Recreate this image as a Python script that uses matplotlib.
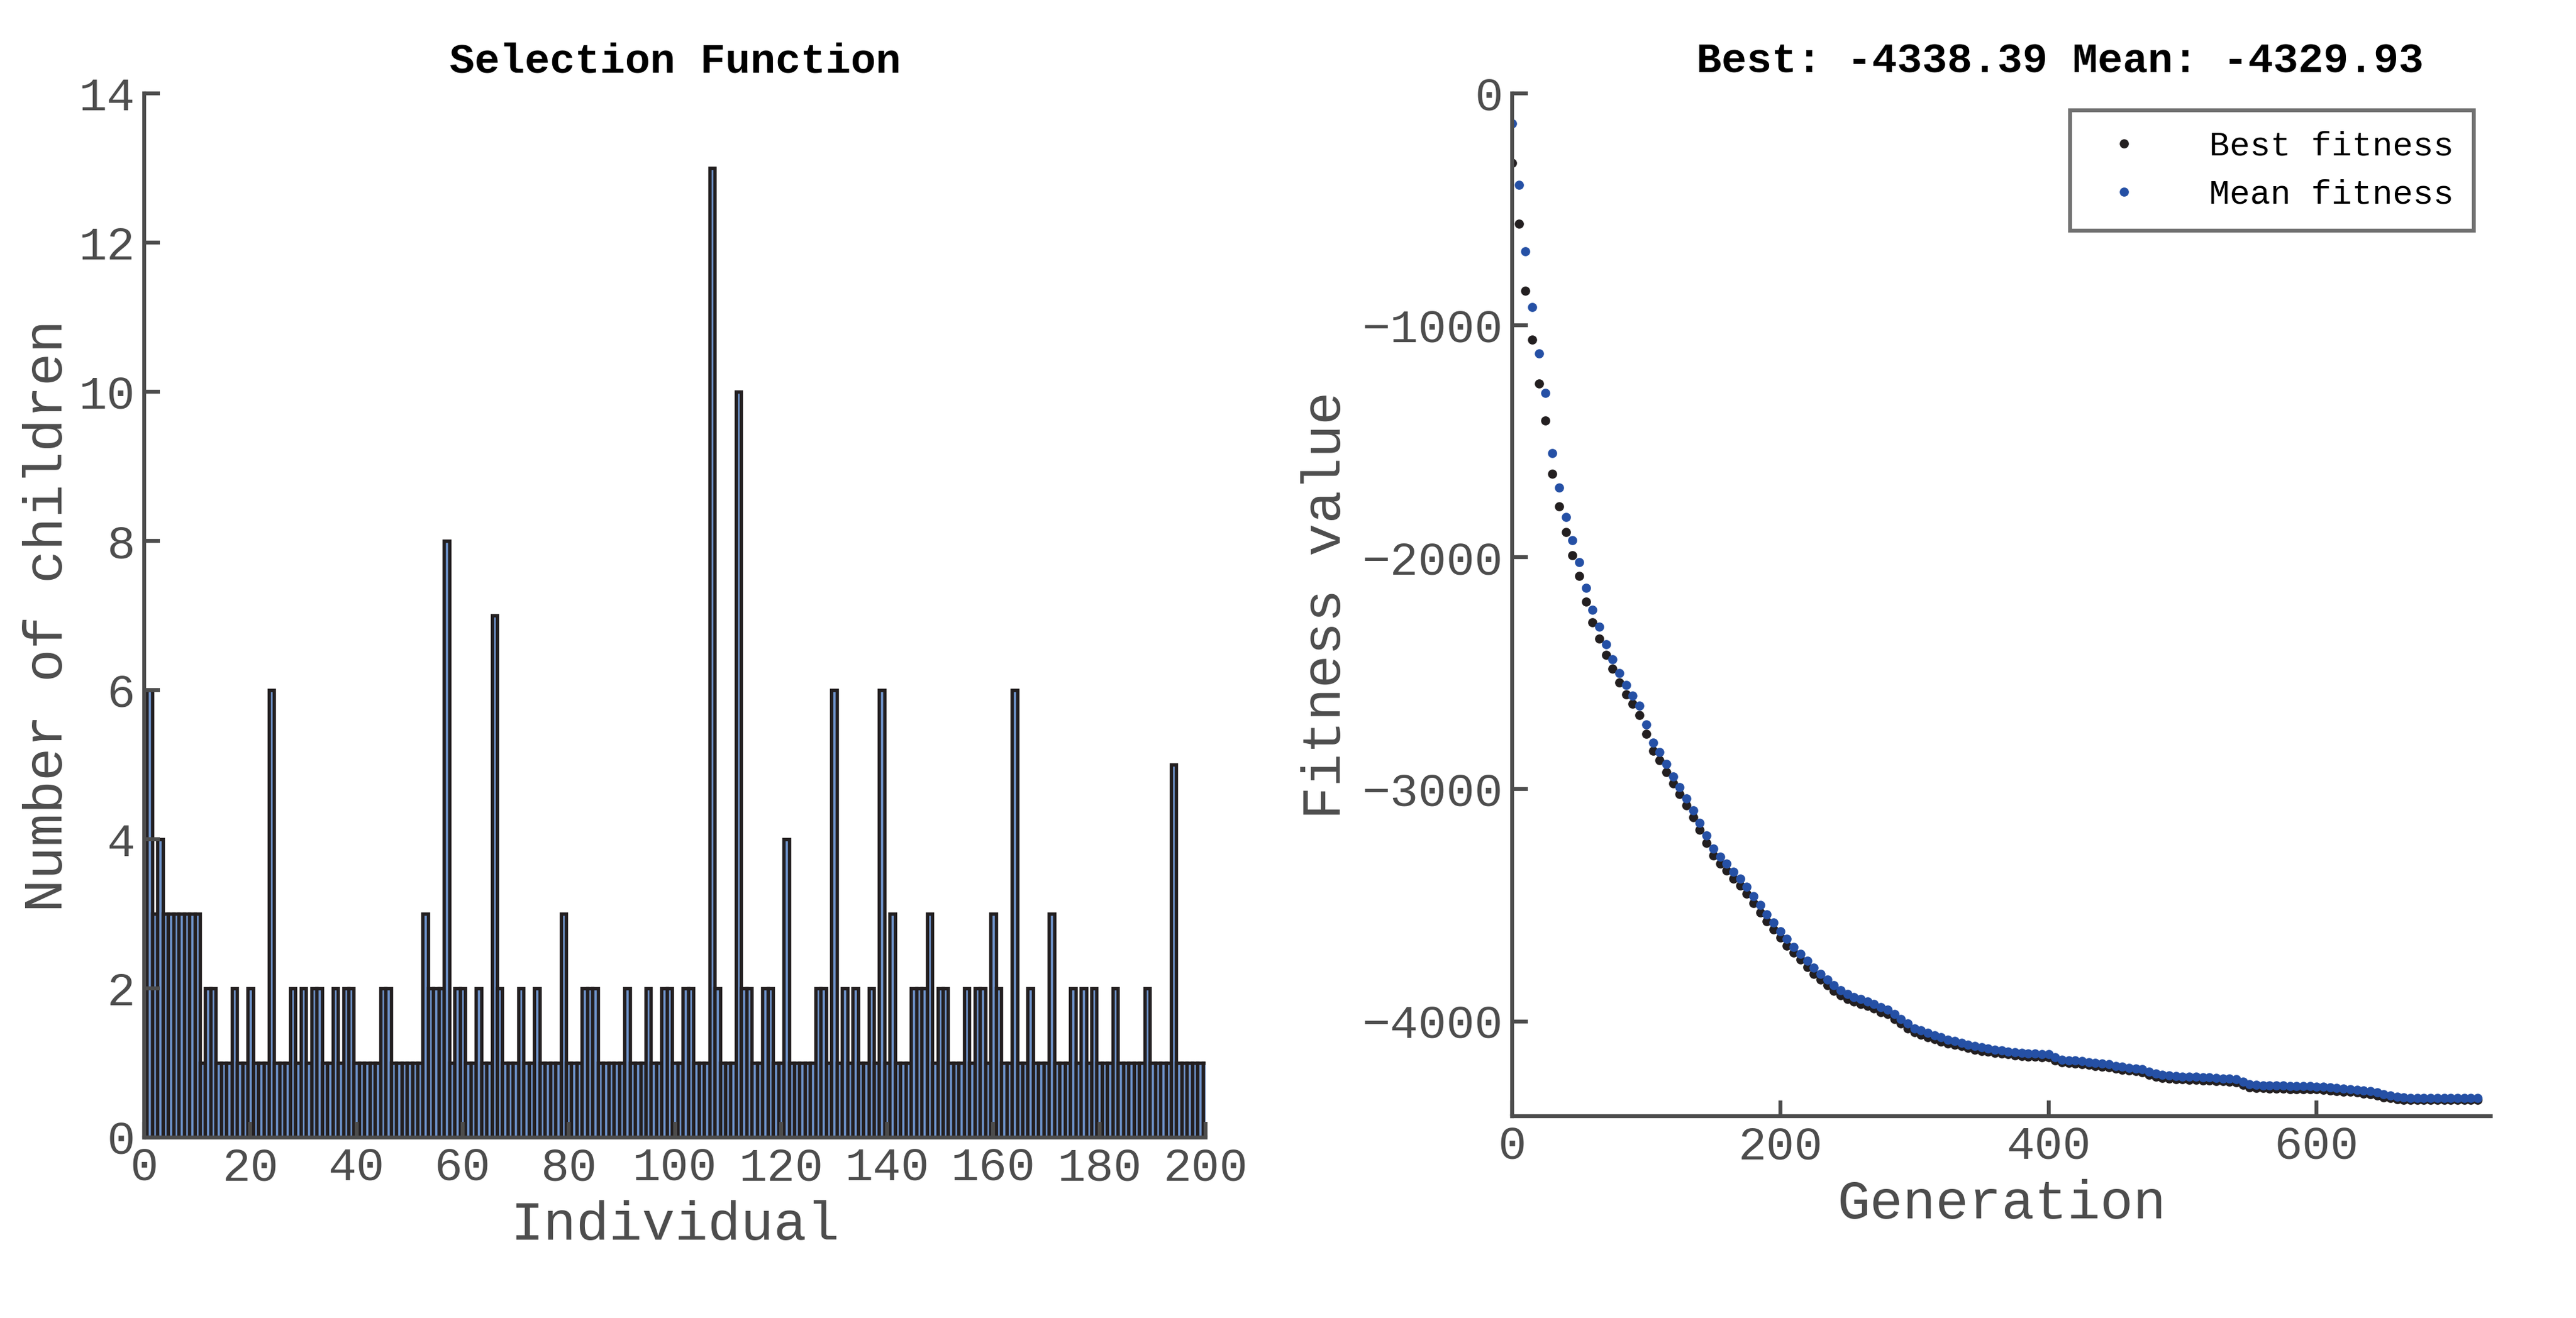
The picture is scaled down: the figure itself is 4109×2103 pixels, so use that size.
import matplotlib
matplotlib.use('Agg')
import matplotlib.pyplot as plt
import numpy as np

plt.rcParams['font.family'] = ['Liberation Mono', 'DejaVu Sans Mono']

# number of children per individual (1..200); default 1, others listed
individuals = np.arange(1, 201)
children = np.ones(200)
extra = {1: 6, 2: 3, 3: 4, 4: 3, 5: 3, 6: 3, 7: 3, 8: 3, 9: 3, 10: 3,
         12: 2, 13: 2, 17: 2, 20: 2, 24: 6, 28: 2, 30: 2, 32: 2, 33: 2,
         36: 2, 38: 2, 39: 2, 45: 2, 46: 2, 53: 3, 54: 2, 55: 2, 56: 2,
         57: 8, 59: 2, 60: 2, 63: 2, 66: 7, 67: 2, 71: 2, 74: 2, 79: 3,
         83: 2, 84: 2, 85: 2, 91: 2, 95: 2, 98: 2, 99: 2, 102: 2, 103: 2,
         107: 13, 108: 2, 112: 10, 113: 2, 114: 2, 117: 2, 118: 2, 121: 4,
         127: 2, 128: 2, 130: 6, 132: 2, 134: 2, 137: 2, 139: 6, 141: 3,
         145: 2, 146: 2, 147: 2, 148: 3, 150: 2, 151: 2, 155: 2, 157: 2,
         158: 2, 160: 3, 161: 2, 164: 6, 167: 2, 171: 3, 175: 2, 177: 2,
         179: 2, 183: 2, 189: 2, 194: 5}
for k, v in extra.items():
    children[k - 1] = v

generation = list(range(0, 725, 5))
mean_fit = [-130, -394, -680, -920, -1120, -1290, -1549, -1700, -1825, -1925,
            -2020, -2130, -2225, -2300, -2375, -2440, -2500, -2550, -2595, -2640,
            -2720, -2800, -2840, -2890, -2945, -2990, -3040, -3090, -3145, -3200,
            -3255, -3290, -3320, -3355, -3385, -3420, -3460, -3500, -3540, -3575,
            -3611, -3645, -3680, -3710, -3740, -3770, -3795, -3820, -3845, -3865,
            -3882, -3895, -3905, -3915, -3925, -3940, -3950, -3970, -3990, -4010,
            -4030, -4040, -4050, -4060, -4070, -4080, -4085, -4092, -4100, -4108,
            -4113, -4118, -4122, -4126, -4130, -4134, -4137, -4139, -4140, -4141,
            -4143, -4155, -4165, -4168, -4170, -4172, -4176, -4180, -4183, -4186,
            -4192, -4197, -4200, -4203, -4208, -4218, -4226, -4231, -4234, -4236,
            -4238, -4239, -4240, -4242, -4243, -4244, -4246, -4248, -4250, -4262,
            -4272, -4275, -4276, -4277, -4278, -4278, -4279, -4280, -4280, -4280,
            -4281, -4283, -4285, -4288, -4290, -4292, -4295, -4298, -4302, -4308,
            -4314, -4320, -4325, -4329, -4330, -4330, -4330, -4330, -4330, -4330,
            -4330, -4330, -4330, -4330, -4330]
best_fit = [-300, -560, -850, -1060, -1250, -1410, -1640, -1780, -1890, -1990,
            -2080, -2190, -2280, -2350, -2420, -2480, -2540, -2590, -2630, -2680,
            -2760, -2835, -2875, -2925, -2975, -3020, -3070, -3120, -3175, -3230,
            -3285, -3320, -3350, -3385, -3415, -3450, -3490, -3530, -3570, -3605,
            -3640, -3675, -3705, -3735, -3765, -3795, -3820, -3845, -3868, -3888,
            -3905, -3915, -3925, -3935, -3945, -3960, -3970, -3990, -4010, -4030,
            -4048, -4058, -4068, -4078, -4088, -4096, -4100, -4107, -4115, -4122,
            -4127, -4132, -4136, -4140, -4143, -4147, -4150, -4152, -4153, -4154,
            -4156, -4168, -4178, -4181, -4183, -4185, -4189, -4193, -4196, -4199,
            -4205, -4210, -4213, -4216, -4221, -4231, -4239, -4244, -4247, -4249,
            -4251, -4252, -4253, -4255, -4256, -4257, -4259, -4261, -4263, -4275,
            -4285, -4288, -4289, -4290, -4291, -4291, -4292, -4293, -4293, -4293,
            -4294, -4296, -4298, -4301, -4303, -4305, -4308, -4311, -4315, -4321,
            -4327, -4332, -4336, -4338, -4338, -4338, -4338, -4338, -4338, -4338,
            -4338, -4338, -4338, -4338, -4338.39]

axcol = '#4d4d4d'

fig = plt.figure(figsize=(4109 / 300, 2103 / 300), dpi=300)

ax1 = fig.add_axes([0.056, 0.137, 0.412, 0.792])
ax1.bar(individuals, children, width=1.0, color='#7096cf',
        edgecolor='#231f20', linewidth=1.3)
ax1.set_xlim(0, 200)
ax1.set_ylim(0, 14)
ax1.set_xticks(range(0, 201, 20))
ax1.set_yticks(range(0, 15, 2))
ax1.set_xlabel('Individual', fontsize=21, color=axcol)
ax1.set_ylabel('Number of children', fontsize=21, color=axcol, labelpad=2)
ax1.set_title('Selection Function', fontsize=16, fontweight='bold', pad=8)

ax2 = fig.add_axes([0.587, 0.153, 0.380, 0.776])
ax2.plot(generation, best_fit, '.', color='#231f20', markersize=5, label='Best fitness')
ax2.plot(generation, mean_fit, '.', color='#2550a5', markersize=5, label='Mean fitness')
ax2.set_xlim(0, 730)
ax2.set_ylim(-4410, 0)
ax2.set_xticks([0, 200, 400, 600])
ax2.set_yticks([0, -1000, -2000, -3000, -4000])
ax2.set_xlabel('Generation', fontsize=21, color=axcol)
ax2.set_ylabel('Fitness value', fontsize=21, color=axcol)
ax2.set_title('Best: -4338.39 Mean: -4329.93', fontsize=16, fontweight='bold',
              pad=8, x=0.56)
leg = ax2.legend(loc='upper right', fontsize=13, frameon=True, fancybox=False,
                 handletextpad=1.5, borderpad=0.6, markerscale=1.0)
leg.get_frame().set_edgecolor(axcol)
leg.get_frame().set_linewidth(1.5)

for ax in (ax1, ax2):
    for s in ('top', 'right'):
        ax.spines[s].set_visible(False)
    for s in ('left', 'bottom'):
        ax.spines[s].set_color(axcol)
        ax.spines[s].set_linewidth(1.5)
    ax.tick_params(direction='in', colors=axcol, labelsize=18, width=1.5,
                   length=6, labelcolor=axcol)

fig.savefig('out.png', dpi=300)
